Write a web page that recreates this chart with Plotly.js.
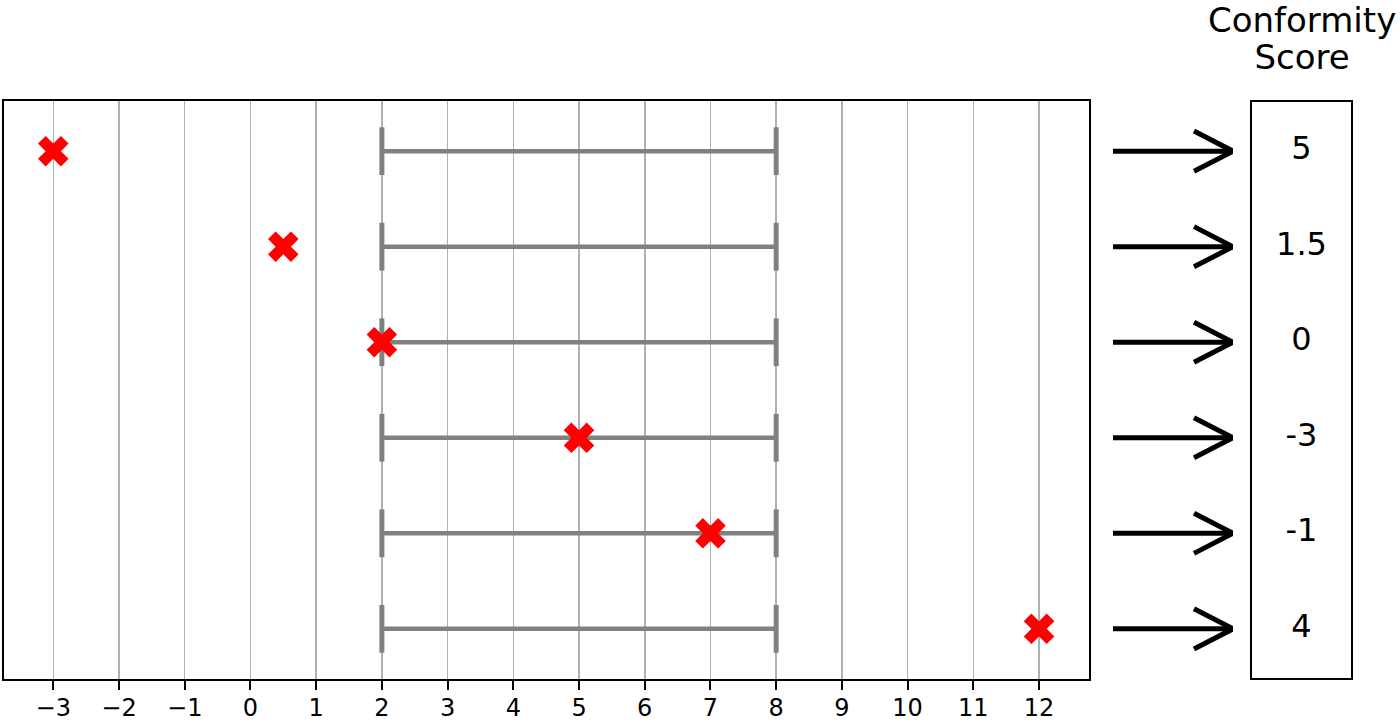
<!DOCTYPE html>
<html>
<head>
<meta charset="utf-8">
<script src="https://cdn.plot.ly/plotly-3.0.1.min.js"></script>
<style>html,body{margin:0;padding:0;background:#fff;}#chart{width:1400px;height:724px;}</style>
</head>
<body>
<div id="chart"></div>
<script>
// ---- data ----
const rows = [0, 1, 2, 3, 4, 5];
const lowerBounds = [2, 2, 2, 2, 2, 2];
const upperBounds = [8, 8, 8, 8, 8, 8];
const trueValues = [-3, 0.5, 2, 5, 7, 12];
const scores = [5, 1.5, 0, -3, -1, 4];
const xTicks = [-3, -2, -1, 0, 1, 2, 3, 4, 5, 6, 7, 8, 9, 10, 11, 12];
const scoreTitleLines = ['Conformity', 'Score'];

// ---- build traces ----
const FONT = 'DejaVu Sans, Liberation Sans, sans-serif';
const capHalf = 0.25;

const ix = [], iy = [];
rows.forEach((r, i) => {
  ix.push(lowerBounds[i], upperBounds[i], null);
  iy.push(r, r, null);
});
const cx = [], cy = [];
rows.forEach((r, i) => {
  [lowerBounds[i], upperBounds[i]].forEach(b => {
    cx.push(b, b, null);
    cy.push(r - capHalf, r + capHalf, null);
  });
});

const intervalTrace = {
  x: ix, y: iy, mode: 'lines', xaxis: 'x', yaxis: 'y',
  line: {color: '#808080', width: 4.5}, hoverinfo: 'skip'
};
const capTrace = {
  x: cx, y: cy, mode: 'lines', xaxis: 'x', yaxis: 'y',
  line: {color: '#808080', width: 5}, hoverinfo: 'skip'
};
const pointTrace = {
  x: trueValues, y: rows, mode: 'markers', xaxis: 'x', yaxis: 'y',
  marker: {symbol: 'x', size: 27, color: '#ff0000', line: {width: 0}},
  hoverinfo: 'skip'
};

// arrows (decorative) on an auxiliary axis
const ax = [], ay = [];
const headBack = 0.675, headHalf = 0.21;
rows.forEach(r => {
  ax.push(0, 1, null);
  ay.push(r, r, null);
  ax.push(headBack, 1, headBack, null);
  ay.push(r - headHalf, r, r + headHalf, null);
});
const arrowTrace = {
  x: ax, y: ay, mode: 'lines', xaxis: 'x3', yaxis: 'y',
  line: {color: '#000000', width: 5}, hoverinfo: 'skip'
};

const scoreTrace = {
  x: rows.map(() => 0.5), y: rows, mode: 'text', xaxis: 'x2', yaxis: 'y',
  text: scores.map(s => String(s)),
  textposition: 'middle center',
  textfont: {family: FONT, size: 32, color: '#000000'},
  hoverinfo: 'skip'
};

const mainRight = (1089 - 4) / 1348;
const boxLeft = (1251 - 4) / 1348;
const arrowL = (1113 - 4) / 1348, arrowR = (1233 - 4) / 1348;

const hiddenAxis = {showgrid: false, zeroline: false, showticklabels: false, ticks: '', showline: false, fixedrange: true};

const titleText = scoreTitleLines.map(t => '<span style="font-size:34px">' + t + '</span>').join('<br>');

const layout = {
  width: 1400, height: 724,
  margin: {l: 4, r: 48, t: 101, b: 45},
  paper_bgcolor: '#ffffff', plot_bgcolor: 'rgba(0,0,0,0)',
  showlegend: false, hovermode: false,
  font: {family: FONT, color: '#000000'},
  xaxis: {
    domain: [0, mainRight], range: [-3.75, 12.76],
    tickvals: xTicks, ticktext: xTicks.map(v => v < 0 ? '\u2212' + Math.abs(v) : String(v)),
    ticks: 'outside', ticklen: 9, tickwidth: 2, tickcolor: '#000000',
    ticklabelstandoff: -3,
    tickfont: {family: FONT, size: 24, color: '#000000'},
    showgrid: true, gridcolor: '#b0b0b0', gridwidth: 1.5,
    zeroline: false, showline: true, linecolor: '#000000', linewidth: 2, mirror: true,
    anchor: 'y', fixedrange: true
  },
  xaxis2: Object.assign({domain: [boxLeft, 1], range: [0, 1], anchor: 'y'}, hiddenAxis),
  xaxis3: Object.assign({domain: [arrowL, arrowR], range: [0, 1], anchor: 'y'}, hiddenAxis),
  yaxis: {
    domain: [0, 1], range: [5.525, -0.525],
    showgrid: false, zeroline: false, showticklabels: false, ticks: '',
    showline: true, linecolor: '#000000', linewidth: 2, mirror: true,
    anchor: 'x', fixedrange: true
  },
  shapes: [{
    type: 'rect', xref: 'paper', yref: 'paper',
    x0: boxLeft, x1: 1, y0: 0, y1: 1,
    line: {color: '#000000', width: 2}, fillcolor: 'rgba(0,0,0,0)'
  }],
  annotations: [
    {text: titleText, xref: 'paper', yref: 'paper', x: (boxLeft + 1) / 2, y: (679 - 38) / 578,
     xanchor: 'center', yanchor: 'middle', align: 'center', showarrow: false,
     font: {family: FONT, size: 28.5, color: '#000000'}}
  ]
};

Plotly.newPlot('chart', [intervalTrace, capTrace, arrowTrace, scoreTrace, pointTrace], layout, {staticPlot: true, displayModeBar: false});
</script>
</body>
</html>
